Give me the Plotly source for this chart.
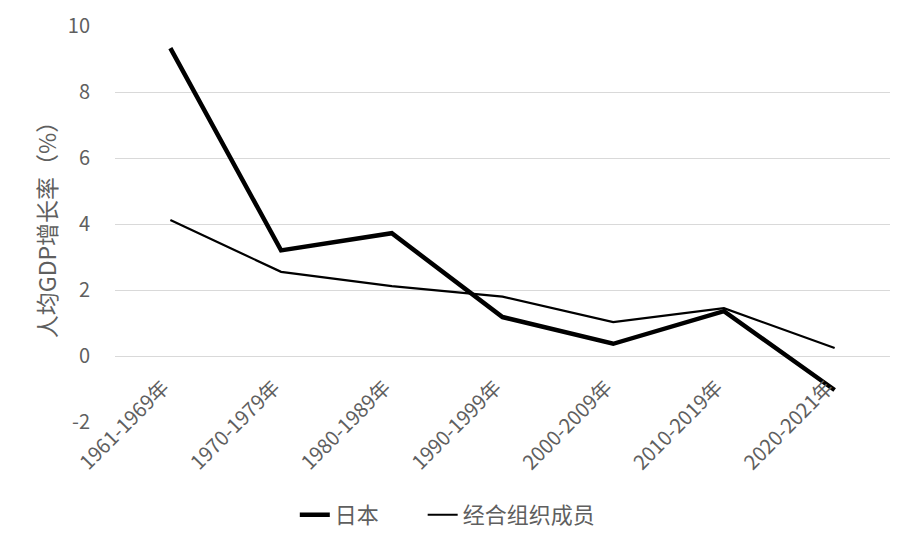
import plotly.graph_objects as go

categories = ["1961-1969年", "1970-1979年", "1980-1989年", "1990-1999年",
              "2000-2009年", "2010-2019年", "2020-2021年"]
japan = [9.33, 3.2, 3.72, 1.18, 0.37, 1.36, -1.03]
oecd = [4.12, 2.55, 2.12, 1.8, 1.03, 1.45, 0.24]
y_ticks = [-2, 0, 2, 4, 6, 8, 10]
y_tick_text = [str(v) for v in y_ticks]

font_family = "Noto Sans CJK SC, Noto Sans, sans-serif"
gray = "#5f5f5f"

fig = go.Figure()
fig.add_trace(go.Scatter(x=categories, y=japan, mode="lines", name="日本",
                         legend="legend",
                         line=dict(color="black", width=4.5)))
fig.add_trace(go.Scatter(x=categories, y=oecd, mode="lines", name="经合组织成员",
                         legend="legend2",
                         line=dict(color="black", width=2.2)))

legend_common = dict(orientation="h", xanchor="left",
                     yref="container", y=0.038, yanchor="middle",
                     bgcolor="rgba(0,0,0,0)",
                     font=dict(size=22, color=gray))

fig.update_layout(
    width=892, height=527,
    margin=dict(l=107, r=10, t=18, b=113),
    paper_bgcolor="white", plot_bgcolor="white",
    font=dict(family=font_family, color=gray, size=16),
    showlegend=True,
    legend=dict(x=0.232, **legend_common),
    legend2=dict(x=0.397, **legend_common),
    xaxis=dict(type="category", range=[-0.5, 6.5], tickangle=-45,
               anchor="free", position=2 / 12, automargin=False,
               showgrid=False, showline=False, zeroline=False,
               tickfont=dict(size=20, color=gray), ticklabelshift=-7,
               ticks="outside", ticklen=11, tickcolor="rgba(0,0,0,0)"),
    yaxis=dict(range=[-2, 10], tickvals=y_ticks, ticktext=y_tick_text,
               showgrid=True, automargin=False,
               gridcolor="#d9d9d9", gridwidth=1, zeroline=False,
               tickfont=dict(size=20, color=gray),
               ticks="outside", ticklen=20, tickcolor="rgba(0,0,0,0)",
               title=dict(text="人均GDP增长率（%）", font=dict(size=23, color=gray),
                          standoff=4)),
)

fig.write_html("out.html")
